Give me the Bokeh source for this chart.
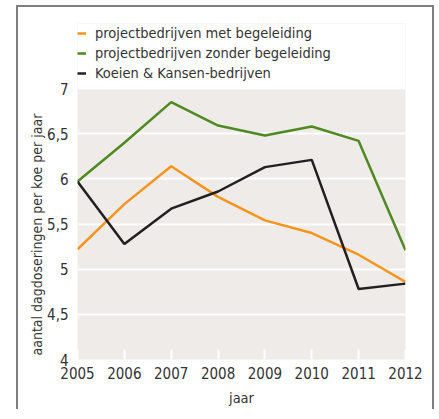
from bokeh.plotting import figure
from bokeh.models import Legend, LegendItem, FixedTicker, Range1d, BoxAnnotation, Title
from bokeh.embed import file_html
from bokeh.resources import INLINE

years = [2005, 2006, 2007, 2008, 2009, 2010, 2011, 2012]
met_begeleiding = [5.22, 5.72, 6.14, 5.80, 5.54, 5.40, 5.16, 4.86]
zonder_begeleiding = [5.97, 6.40, 6.85, 6.59, 6.48, 6.58, 6.42, 5.21]
koeien_kansen = [5.97, 5.28, 5.67, 5.86, 6.13, 6.21, 4.78, 4.84]
series_names = ["projectbedrijven met begeleiding",
                "projectbedrijven zonder begeleiding",
                "Koeien & Kansen-bedrijven"]
y_ticks = [4, 4.5, 5, 5.5, 6, 6.5, 7]
y_tick_labels = {4: "4", 4.5: "4,5", 5: "5", 5.5: "5,5", 6: "6", 6.5: "6,5", 7: "7"}
y_axis_title = "aantal dagdoseringen per koe per jaar"
x_axis_title = "jaar"

FONT = "DejaVu Sans Condensed"
TXT = "#333333"
BEIGE = "#EEEBE8"

p = figure(width=418, height=404, output_backend="svg", toolbar_location=None,
           x_range=Range1d(2005, 2012), y_range=Range1d(4, 7.72),
           min_border_left=59, min_border_right=31, min_border_top=16, min_border_bottom=52,
           styles={"border-top": "2px solid #7F7F7F", "border-left": "2px solid #7F7F7F",
                   "border-right": "2px solid #7F7F7F",
                   "margin-left": "8px", "margin-top": "-3px",
                   "position": "relative", "left": "8px", "top": "8px"})
p.background_fill_color = BEIGE
p.border_fill_color = "white"
p.outline_line_color = None

# white area above the value range, where the legend sits
p.add_layout(BoxAnnotation(bottom=7, fill_color="white", fill_alpha=1,
                           line_color=None, level="underlay"))

p.xgrid.grid_line_color = None
p.ygrid.grid_line_color = "white"
p.ygrid.grid_line_width = 2

p.xaxis.ticker = FixedTicker(ticks=years)
p.yaxis.ticker = FixedTicker(ticks=y_ticks)
p.yaxis.major_label_overrides = y_tick_labels
for ax in (p.xaxis[0], p.yaxis[0]):
    ax.axis_line_color = None
    ax.minor_tick_line_color = None
    ax.major_label_text_font = FONT
    ax.major_label_text_font_size = "15px"
    ax.major_label_text_color = TXT
    ax.axis_label_text_font = FONT
    ax.axis_label_text_font_size = "14.5px"
    ax.axis_label_text_font_style = "normal"
    ax.axis_label_text_color = TXT
p.xaxis.major_tick_in = 10
p.xaxis.major_tick_out = 0
p.xaxis.major_tick_line_color = "white"
p.xaxis.major_tick_line_width = 2
p.xaxis.major_label_standoff = 7
p.xaxis.axis_label = x_axis_title
p.xaxis.axis_label_standoff = 8
p.yaxis.major_tick_line_color = None
p.yaxis.major_label_standoff = 3

ytitle = Title(text=y_axis_title, align="left", offset=4, standoff=0,
               text_font=FONT, text_font_size="14px", text_font_style="normal",
               text_color=TXT)
p.add_layout(ytitle, "left")
spacer = Title(text=" ", text_font_size="2px", standoff=3)
p.add_layout(spacer, "left")

colors = ["#F7941D", "#4E8A21", "#231F20"]
r1 = p.line(years, met_begeleiding, line_color=colors[0], line_width=2.5)
r2 = p.line(years, zonder_begeleiding, line_color=colors[1], line_width=2.5)
r3 = p.line(years, koeien_kansen, line_color=colors[2], line_width=2.5)

legend = Legend(items=[LegendItem(label=series_names[0], renderers=[r1]),
                       LegendItem(label=series_names[1], renderers=[r2]),
                       LegendItem(label=series_names[2], renderers=[r3])],
                location="top_left", orientation="vertical",
                background_fill_alpha=0, border_line_color=None,
                padding=0, margin=0, spacing=0,
                glyph_width=9, glyph_height=20, label_height=20,
                label_standoff=9,
                label_text_font=FONT, label_text_font_size="14.5px",
                label_text_color=TXT)
p.add_layout(legend, "center")

open("out.html", "w").write(file_html(p, INLINE))
